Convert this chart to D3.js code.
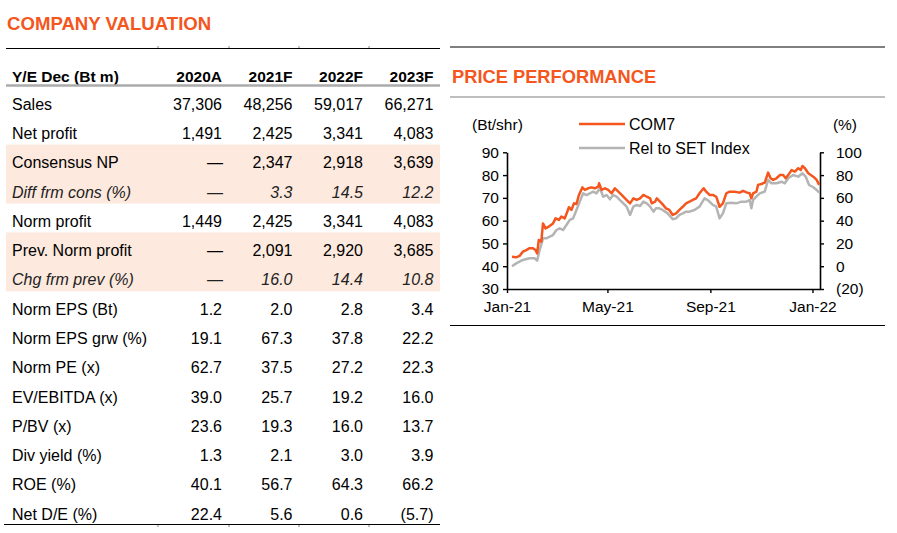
<!DOCTYPE html>
<html>
<head>
<meta charset="utf-8">
<script src="https://cdn.jsdelivr.net/npm/d3@7"></script>
<style>
  html, body { margin: 0; padding: 0; background: #fff; }
  svg { display: block; font-family: "Liberation Sans", Arial, sans-serif; }
</style>
</head>
<body>
<svg id="root" width="897" height="533"></svg>
<script>
// ---------------- DATA ----------------
const tableTitle = "COMPANY VALUATION";
const chartTitle = "PRICE PERFORMANCE";
const headerLabel = "Y/E Dec (Bt m)";
const years = ["2020A", "2021F", "2022F", "2023F"];
const rowLabels = ["Sales", "Net profit", "Consensus NP", "Diff frm cons (%)", "Norm profit",
  "Prev. Norm profit", "Chg frm prev (%)", "Norm EPS (Bt)", "Norm EPS grw (%)", "Norm PE (x)",
  "EV/EBITDA (x)", "P/BV (x)", "Div yield (%)", "ROE (%)", "Net D/E (%)"];
const rowValues = [
  ["37,306", "48,256", "59,017", "66,271"],
  ["1,491", "2,425", "3,341", "4,083"],
  ["—", "2,347", "2,918", "3,639"],
  ["—", "3.3", "14.5", "12.2"],
  ["1,449", "2,425", "3,341", "4,083"],
  ["—", "2,091", "2,920", "3,685"],
  ["—", "16.0", "14.4", "10.8"],
  ["1.2", "2.0", "2.8", "3.4"],
  ["19.1", "67.3", "37.8", "22.2"],
  ["62.7", "37.5", "27.2", "22.3"],
  ["39.0", "25.7", "19.2", "16.0"],
  ["23.6", "19.3", "16.0", "13.7"],
  ["1.3", "2.1", "3.0", "3.9"],
  ["40.1", "56.7", "64.3", "66.2"],
  ["22.4", "5.6", "0.6", "(5.7)"]
];
const shadedRows = [2, 3, 5, 6];
const italicRows = [3, 6];

// Price chart
const seriesNames = ["COM7", "Rel to SET Index"];
const leftAxisLabel = "(Bt/shr)";
const rightAxisLabel = "(%)";
const leftTicks = [30, 40, 50, 60, 70, 80, 90];
const rightTicks = [-20, 0, 20, 40, 60, 80, 100];
const xTickDates = ["2021-01-01", "2021-05-01", "2021-09-01", "2022-01-01"];
const xDomain = ["2021-01-01", "2022-01-10"];

const com7Dates = ["2021-01-07","2021-01-12","2021-01-16","2021-01-20","2021-01-24","2021-01-28","2021-02-01","2021-02-04","2021-02-06","2021-02-08","2021-02-11","2021-02-13","2021-02-16","2021-02-20","2021-02-25","2021-02-28","2021-03-04","2021-03-07","2021-03-11","2021-03-14","2021-03-16","2021-03-19","2021-03-22","2021-03-25","2021-03-28","2021-04-01","2021-04-04","2021-04-08","2021-04-12","2021-04-16","2021-04-20","2021-04-21","2021-04-24","2021-04-28","2021-05-02","2021-05-06","2021-05-10","2021-05-14","2021-05-18","2021-05-22","2021-05-28","2021-06-01","2021-06-05","2021-06-09","2021-06-13","2021-06-17","2021-06-21","2021-06-23","2021-06-27","2021-06-29","2021-07-05","2021-07-10","2021-07-14","2021-07-18","2021-07-22","2021-07-26","2021-07-30","2021-08-03","2021-08-07","2021-08-11","2021-08-15","2021-08-19","2021-08-24","2021-08-27","2021-08-31","2021-09-04","2021-09-08","2021-09-12","2021-09-16","2021-09-20","2021-09-24","2021-09-30","2021-10-06","2021-10-10","2021-10-15","2021-10-18","2021-10-20","2021-10-22","2021-10-26","2021-10-28","2021-11-01","2021-11-05","2021-11-09","2021-11-12","2021-11-15","2021-11-19","2021-11-23","2021-11-27","2021-11-30","2021-12-03","2021-12-07","2021-12-11","2021-12-15","2021-12-18","2021-12-20","2021-12-23","2021-12-27","2022-01-02","2022-01-06","2022-01-09"];
const com7Values = [44.2,43.9,44.5,46.4,47.1,47.9,47.9,47.1,45.6,51.5,50.8,58.8,56.6,57.4,58.8,61.0,60.3,61.8,61.0,63.9,65.9,64.7,67.6,67.3,71.3,74.6,73.5,74.2,74.6,74.2,74.9,76.4,73.5,74.2,73.5,72.0,74.2,72.7,71.3,69.8,67.6,69.8,69.1,69.8,71.3,70.5,69.8,67.6,68.3,69.8,67.6,65.4,64.7,62.5,63.2,64.7,66.1,67.6,68.3,69.1,69.8,72.0,74.2,72.7,71.3,71.3,70.5,66.1,67.6,72.0,72.7,72.7,72.3,73.1,72.3,72.0,69.8,72.0,72.7,75.7,76.1,76.7,81.1,78.6,77.9,78.6,80.0,80.0,78.6,80.0,82.2,81.5,83.0,82.2,84.0,83.0,80.8,79.3,77.9,75.7];

const relDates = ["2021-01-07","2021-01-12","2021-01-16","2021-01-20","2021-01-28","2021-02-03","2021-02-06","2021-02-09","2021-02-13","2021-02-17","2021-02-21","2021-02-25","2021-03-01","2021-03-05","2021-03-09","2021-03-13","2021-03-17","2021-03-21","2021-03-25","2021-03-29","2021-04-02","2021-04-06","2021-04-10","2021-04-14","2021-04-18","2021-04-22","2021-04-26","2021-04-30","2021-05-04","2021-05-08","2021-05-12","2021-05-16","2021-05-20","2021-05-24","2021-05-28","2021-06-01","2021-06-05","2021-06-09","2021-06-13","2021-06-17","2021-06-21","2021-06-25","2021-06-28","2021-07-02","2021-07-06","2021-07-12","2021-07-18","2021-07-22","2021-07-26","2021-07-30","2021-08-03","2021-08-07","2021-08-13","2021-08-19","2021-08-25","2021-08-29","2021-09-04","2021-09-08","2021-09-12","2021-09-16","2021-09-20","2021-09-26","2021-10-02","2021-10-08","2021-10-14","2021-10-18","2021-10-20","2021-10-22","2021-10-26","2021-10-30","2021-11-05","2021-11-09","2021-11-13","2021-11-19","2021-11-25","2021-11-29","2021-12-03","2021-12-09","2021-12-15","2021-12-20","2021-12-24","2021-12-28","2022-01-02","2022-01-06","2022-01-09"];
const relValues = [0,2.5,4,5.5,7,7,4.9,14.2,24.5,24.5,26,27.4,31.8,33.3,31.8,36.2,40.6,42,49.4,56.7,64,62.5,64,65.5,64,68.4,61,62.5,58.7,62.5,61,58.1,55.2,52.3,45,52.3,53.8,52.9,56.7,55.2,52.3,47.9,50.8,50.8,49.4,46.4,41.2,42,45,46.4,47.9,47.9,49.4,52.3,59.6,58.1,53.8,52.3,42,46.4,55.2,55.8,55.2,56.7,56.7,58.1,50.8,58.1,61,64,65.5,75.7,72.8,72.8,74.2,72.8,77.2,80.1,78.6,81.6,78.6,71.3,69.3,66.9,64.6];

// ---------------- DRAW ----------------
const ORANGE = "#F4561D";
const GRAY = "#B4B4B4";
const svg = d3.select("#root");
svg.append("rect").attr("width", 897).attr("height", 533).attr("fill", "#fff");

// ---- Table ----
const tbl = svg.append("g");
tbl.append("text").attr("x", 7).attr("y", 30).attr("fill", ORANGE)
  .attr("font-size", 18.6).attr("font-weight", "bold").text(tableTitle);

const colRight = [222, 292.5, 363, 433.5];
const colBounds = [158, 229, 299, 369];
const rowY = d3.scaleLinear().domain([0, 14]).range([109.7, 519.7]); // baselines

// shaded bands
shadedRows.forEach(i => {
  tbl.append("rect").attr("x", 6).attr("width", 434)
    .attr("y", rowY(i) - 23.7).attr("height", rowY(1) - rowY(0) + 0.4)
    .attr("fill", "#FDE9DE");
});

// top line with small ticks
tbl.append("line").attr("x1", 6).attr("x2", 440).attr("y1", 48.5).attr("y2", 48.5)
  .attr("stroke", "#000").attr("stroke-width", 1);
colBounds.forEach(x => tbl.append("line").attr("x1", x).attr("x2", x).attr("y1", 46).attr("y2", 48)
  .attr("stroke", "#666").attr("stroke-width", 0.8));

// header
tbl.append("text").attr("x", 12).attr("y", 82).attr("font-size", 15.5).attr("font-weight", "bold")
  .text(headerLabel);
years.forEach((y, j) => tbl.append("text").attr("x", colRight[j]).attr("y", 82)
  .attr("text-anchor", "end").attr("font-size", 15.5).attr("font-weight", "bold").text(y));
tbl.append("line").attr("x1", 6).attr("x2", 440).attr("y1", 85.5).attr("y2", 85.5)
  .attr("stroke", "#ABABAB").attr("stroke-width", 2.6);

// rows
rowLabels.forEach((lab, i) => {
  const it = italicRows.includes(i);
  const g = tbl.append("g").attr("font-size", 16).attr("fill", it ? "#222" : "#000")
    .attr("font-style", it ? "italic" : "normal");
  g.append("text").attr("x", 12).attr("y", rowY(i)).text(lab);
  rowValues[i].forEach((v, j) => {
    g.append("text").attr("x", colRight[j] + (v === "—" ? 1 : 0)).attr("y", rowY(i))
      .attr("text-anchor", "end").attr("font-style", v === "—" ? "normal" : null).text(v);
  });
});

// bottom line with ticks
tbl.append("line").attr("x1", 4).attr("x2", 440).attr("y1", 524.5).attr("y2", 524.5)
  .attr("stroke", "#000").attr("stroke-width", 1);
colBounds.forEach(x => tbl.append("line").attr("x1", x).attr("x2", x).attr("y1", 525).attr("y2", 527)
  .attr("stroke", "#666").attr("stroke-width", 0.8));

// ---- Price chart ----
const ch = svg.append("g");
ch.append("line").attr("x1", 450).attr("x2", 885).attr("y1", 47).attr("y2", 47)
  .attr("stroke", "#000").attr("stroke-width", 1.2);
ch.append("text").attr("x", 452).attr("y", 83).attr("fill", ORANGE)
  .attr("font-size", 18.3).attr("font-weight", "bold").text(chartTitle);
ch.append("line").attr("x1", 450).attr("x2", 885).attr("y1", 97).attr("y2", 97)
  .attr("stroke", "#BFBFBF").attr("stroke-width", 2);
ch.append("line").attr("x1", 450).attr("x2", 885).attr("y1", 325.5).attr("y2", 325.5)
  .attr("stroke", "#000").attr("stroke-width", 1);

const parse = d3.timeParse("%Y-%m-%d");
const x = d3.scaleTime().domain(xDomain.map(parse)).range([507, 820]);
const yL = d3.scaleLinear().domain([30, 90]).range([289, 152.3]);
const yR = d3.scaleLinear().domain([-20, 100]).range([289, 152.3]);

const fs = 15.5;
const axL = ch.append("g").attr("transform", "translate(507,0)")
  .call(d3.axisLeft(yL).tickValues(leftTicks).tickSize(4).tickSizeOuter(0).tickPadding(4));
const axR = ch.append("g").attr("transform", "translate(820,0)")
  .call(d3.axisRight(yR).tickValues(rightTicks).tickSize(4).tickSizeOuter(0).tickPadding(12)
    .tickFormat(d => d < 0 ? `(${-d})` : d));
const axB = ch.append("g").attr("transform", "translate(0,289)")
  .call(d3.axisBottom(x).tickValues(xTickDates.map(parse)).tickSize(4).tickSizeOuter(0).tickPadding(8)
    .tickFormat(d3.timeFormat("%b-%y")));
[axL, axR, axB].forEach(a => {
  a.selectAll("path.domain").attr("stroke", "#000").attr("stroke-width", 1.6);
  a.selectAll(".tick line").attr("stroke", "#000").attr("stroke-width", 1.4);
  a.selectAll("text").attr("font-size", fs).attr("fill", "#000")
    .attr("font-family", "'Liberation Sans', Arial, sans-serif");
});

const relData = relDates.map((d, i) => ({ d: parse(d), v: relValues[i] }));
const comData = com7Dates.map((d, i) => ({ d: parse(d), v: com7Values[i] }));
ch.append("path").datum(relData).attr("fill", "none").attr("stroke", GRAY).attr("stroke-width", 2.5)
  .attr("stroke-linejoin", "round")
  .attr("d", d3.line().x(p => x(p.d)).y(p => yR(p.v)));
ch.append("path").datum(comData).attr("fill", "none").attr("stroke", ORANGE).attr("stroke-width", 2.5)
  .attr("stroke-linejoin", "round")
  .attr("d", d3.line().x(p => x(p.d)).y(p => yL(p.v)));

// axis titles
ch.append("text").attr("x", 472).attr("y", 129.5).attr("font-size", fs).text(leftAxisLabel);
ch.append("text").attr("x", 857).attr("y", 129.5).attr("text-anchor", "end").attr("font-size", fs).text(rightAxisLabel);

// legend
const legColors = [ORANGE, GRAY];
const legY = [124, 148];
seriesNames.forEach((n, i) => {
  ch.append("line").attr("x1", 579).attr("x2", 625).attr("y1", legY[i]).attr("y2", legY[i])
    .attr("stroke", legColors[i]).attr("stroke-width", 2.4);
  ch.append("text").attr("x", 629).attr("y", legY[i] + 5.5).attr("font-size", 16).text(n);
});
</script>
</body>
</html>
